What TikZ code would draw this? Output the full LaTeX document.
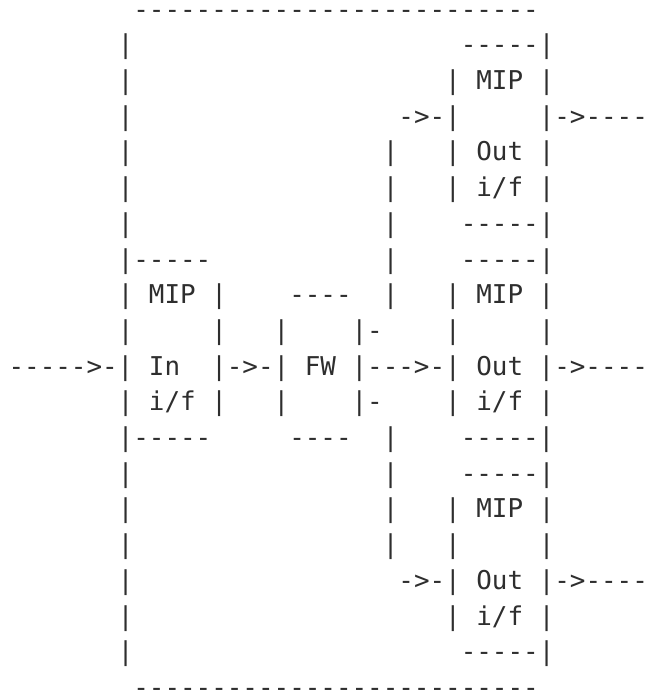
\documentclass[tikz,border=0pt]{standalone}
\usepackage{fontspec}
\newfontfamily\asciimono{DejaVu Sans Mono}
\definecolor{ink}{HTML}{2E2E2E}
\ExplSyntaxOn
\NewDocumentCommand\asciigap{m}{\prg_replicate:nn{#1}{\nobreakspace}}
\ExplSyntaxOff
\begin{document}
\begin{tikzpicture}[x=1pt,y=1pt,
  asciirow/.style={anchor=base west, inner sep=0pt, outer sep=0pt,
    font=\asciimono\fontsize{25.9}{31}\selectfont, text=ink}]
\fill[white] (0,0) rectangle (645,-691);
\useasboundingbox (0,0) rectangle (645,-691);
\def\lh{35.7}
\def\yo{18.1}
\def\xo{8.6}
\node[asciirow] (r1)  at (\xo,{-\yo-\lh*0})  {\asciigap{8}--------------------------};
\node[asciirow] (r2)  at (\xo,{-\yo-\lh*1})  {\asciigap{7}|\asciigap{21}-----|};
\node[asciirow] (r3)  at (\xo,{-\yo-\lh*2})  {\asciigap{7}|\asciigap{20}|\asciigap{1}MIP\asciigap{1}|};
\node[asciirow] (r4)  at (\xo,{-\yo-\lh*3})  {\asciigap{7}|\asciigap{17}->-|\asciigap{5}|->----};
\node[asciirow] (r5)  at (\xo,{-\yo-\lh*4})  {\asciigap{7}|\asciigap{16}|\asciigap{3}|\asciigap{1}Out\asciigap{1}|};
\node[asciirow] (r6)  at (\xo,{-\yo-\lh*5})  {\asciigap{7}|\asciigap{16}|\asciigap{3}|\asciigap{1}i/f\asciigap{1}|};
\node[asciirow] (r7)  at (\xo,{-\yo-\lh*6})  {\asciigap{7}|\asciigap{16}|\asciigap{4}-----|};
\node[asciirow] (r8)  at (\xo,{-\yo-\lh*7})  {\asciigap{7}|-----\asciigap{11}|\asciigap{4}-----|};
\node[asciirow] (r9)  at (\xo,{-\yo-\lh*8})  {\asciigap{7}|\asciigap{1}MIP\asciigap{1}|\asciigap{4}----\asciigap{2}|\asciigap{3}|\asciigap{1}MIP\asciigap{1}|};
\node[asciirow] (r10) at (\xo,{-\yo-\lh*9})  {\asciigap{7}|\asciigap{5}|\asciigap{3}|\asciigap{4}|-\asciigap{4}|\asciigap{5}|};
\node[asciirow] (r11) at (\xo,{-\yo-\lh*10}) {----->-|\asciigap{1}In\asciigap{2}|->-|\asciigap{1}FW\asciigap{1}|--->-|\asciigap{1}Out\asciigap{1}|->----};
\node[asciirow] (r12) at (\xo,{-\yo-\lh*11}) {\asciigap{7}|\asciigap{1}i/f\asciigap{1}|\asciigap{3}|\asciigap{4}|-\asciigap{4}|\asciigap{1}i/f\asciigap{1}|};
\node[asciirow] (r13) at (\xo,{-\yo-\lh*12}) {\asciigap{7}|-----\asciigap{5}----\asciigap{2}|\asciigap{4}-----|};
\node[asciirow] (r14) at (\xo,{-\yo-\lh*13}) {\asciigap{7}|\asciigap{16}|\asciigap{4}-----|};
\node[asciirow] (r15) at (\xo,{-\yo-\lh*14}) {\asciigap{7}|\asciigap{16}|\asciigap{3}|\asciigap{1}MIP\asciigap{1}|};
\node[asciirow] (r16) at (\xo,{-\yo-\lh*15}) {\asciigap{7}|\asciigap{16}|\asciigap{3}|\asciigap{5}|};
\node[asciirow] (r17) at (\xo,{-\yo-\lh*16}) {\asciigap{7}|\asciigap{17}->-|\asciigap{1}Out\asciigap{1}|->----};
\node[asciirow] (r18) at (\xo,{-\yo-\lh*17}) {\asciigap{7}|\asciigap{20}|\asciigap{1}i/f\asciigap{1}|};
\node[asciirow] (r19) at (\xo,{-\yo-\lh*18}) {\asciigap{7}|\asciigap{21}-----|};
\node[asciirow] (r20) at (\xo,{-\yo-\lh*19}) {\asciigap{8}--------------------------};
\end{tikzpicture}
\end{document}
